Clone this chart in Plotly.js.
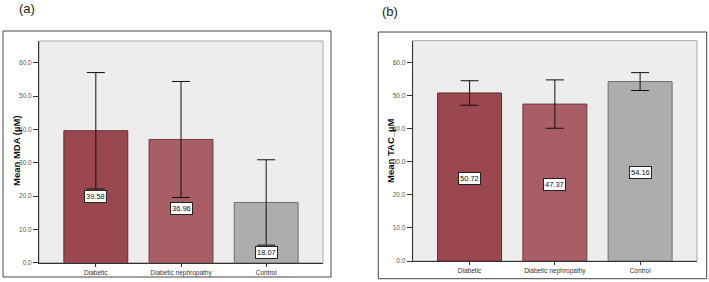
<!DOCTYPE html>
<html>
<head>
<meta charset="utf-8">
<script src="https://cdn.plot.ly/plotly-3.0.1.min.js"></script>
<style>html,body{margin:0;padding:0;background:#fff;}#chart{width:709px;height:282px;}</style>
</head>
<body>
<div id="chart"></div>
<script>
// ---- data ----
const categories = ["Diabetic", "Diabetic nephropathy", "Control"];
const mdaMeans = [39.58, 36.96, 18.07];
const mdaErr = [17.45, 17.4, 12.8];
const mdaLabelY = [19.8, 16.2, 3.0];
const tacMeans = [50.72, 47.37, 54.16];
const tacErr = [3.7, 7.3, 2.7];
const tacLabelY = [24.9, 23.2, 26.7];
const yTitleA = "Mean MDA (µM)";
const yTitleB = "Mean TAC_µM";
const barColors = ["#9a4750", "#a95d64", "#adadad"];
const barLines = ["#5e2a30", "#6a3a3e", "#6e6e6e"];

const font = "Liberation Sans, Arial, sans-serif";

function barTrace(means, errs, xa, ya) {
  return {
    type: "bar", x: categories, y: means, xaxis: xa, yaxis: ya,
    width: 0.75,
    marker: {color: barColors, line: {color: barLines, width: 1}},
    error_y: {type: "data", array: errs, visible: true, color: "#111", thickness: 1, width: 9},
    hoverinfo: "none", showlegend: false
  };
}

function labels(means, ys, xref, yref) {
  return means.map((m, i) => ({
    x: categories[i], y: ys[i], xref: xref, yref: yref,
    text: m.toFixed(2), showarrow: false,
    font: {family: font, size: 7.5, color: "#111"},
    bgcolor: "#ffffff", bordercolor: "#222", borderwidth: 1, borderpad: 1
  }));
}

const yCommon = {
  range: [0, 66.5], dtick: 10, tickformat: ".1f",
  ticks: "outside", ticklen: 5, tickcolor: "#333", tickwidth: 1,
  showgrid: false, zeroline: false, showline: true, linecolor: "#333", linewidth: 1,
  tickfont: {family: font, size: 6.5, color: "#555"},
  fixedrange: true
};
const xCommon = {
  range: [-0.667, 2.667], type: "category",
  ticks: "outside", ticklen: 3, tickcolor: "#333",
  showgrid: false, zeroline: false, showline: true, linecolor: "#333", linewidth: 1,
  tickfont: {family: font, size: 6.5, color: "#333"},
  fixedrange: true
};

const titleFont = {family: font, size: 9.5, color: "#111", weight: "bold"};

const layout = {
  width: 709, height: 282, autosize: false,
  margin: {l: 0, r: 0, t: 0, b: 0},
  paper_bgcolor: "#ffffff", plot_bgcolor: "#ededed",
  bargap: 0.25,
  xaxis: Object.assign({}, xCommon, {domain: [39/709, 323/709], anchor: "y"}),
  yaxis: Object.assign({}, yCommon, {domain: [1 - 262.7/282, 1 - 41/282], anchor: "x"}),
  xaxis2: Object.assign({}, xCommon, {domain: [412.7/709, 697/709], anchor: "y2"}),
  yaxis2: Object.assign({}, yCommon, {domain: [1 - 261/282, 1 - 40.7/282], anchor: "x2"}),
  shapes: [
    {type: "rect", xref: "paper", yref: "paper", x0: 3/709, x1: 331/709, y0: 1 - 277/282, y1: 1 - 31/282,
      line: {color: "#444", width: 1}, layer: "below"},
    {type: "rect", xref: "paper", yref: "paper", x0: 378.3/709, x1: 706.7/709, y0: 1 - 278.7/282, y1: 1 - 32/282,
      line: {color: "#444", width: 1}, layer: "below"},
    {type: "rect", xref: "x domain", yref: "y domain", x0: 0, x1: 1, y0: 0, y1: 1,
      line: {color: "#a8a8a8", width: 1}, layer: "below"},
    {type: "rect", xref: "x2 domain", yref: "y2 domain", x0: 0, x1: 1, y0: 0, y1: 1,
      line: {color: "#a8a8a8", width: 1}, layer: "below"}
  ],
  annotations: [
    {text: "(a)", xref: "paper", yref: "paper", x: 17/709, y: 1 - 8/282, xanchor: "left", yanchor: "middle",
      showarrow: false, font: {family: font, size: 13, color: "#222"}},
    {text: "(b)", xref: "paper", yref: "paper", x: 380/709, y: 1 - 12/282, xanchor: "left", yanchor: "middle",
      showarrow: false, font: {family: font, size: 13, color: "#222"}},
    {text: "<b>" + yTitleA + "</b>", xref: "paper", yref: "paper", x: 16/709, y: 1 - 151/282,
      textangle: -90, showarrow: false, xanchor: "center", yanchor: "middle", font: titleFont},
    {text: "<b>" + yTitleB + "</b>", xref: "paper", yref: "paper", x: 390/709, y: 1 - 151/282,
      textangle: -90, showarrow: false, xanchor: "center", yanchor: "middle", font: titleFont}
  ].concat(labels(mdaMeans, mdaLabelY, "x", "y"), labels(tacMeans, tacLabelY, "x2", "y2"))
};

Plotly.newPlot("chart", [
  barTrace(mdaMeans, mdaErr, "x", "y"),
  barTrace(tacMeans, tacErr, "x2", "y2")
], layout, {displayModeBar: false, staticPlot: true});
</script>
</body>
</html>
